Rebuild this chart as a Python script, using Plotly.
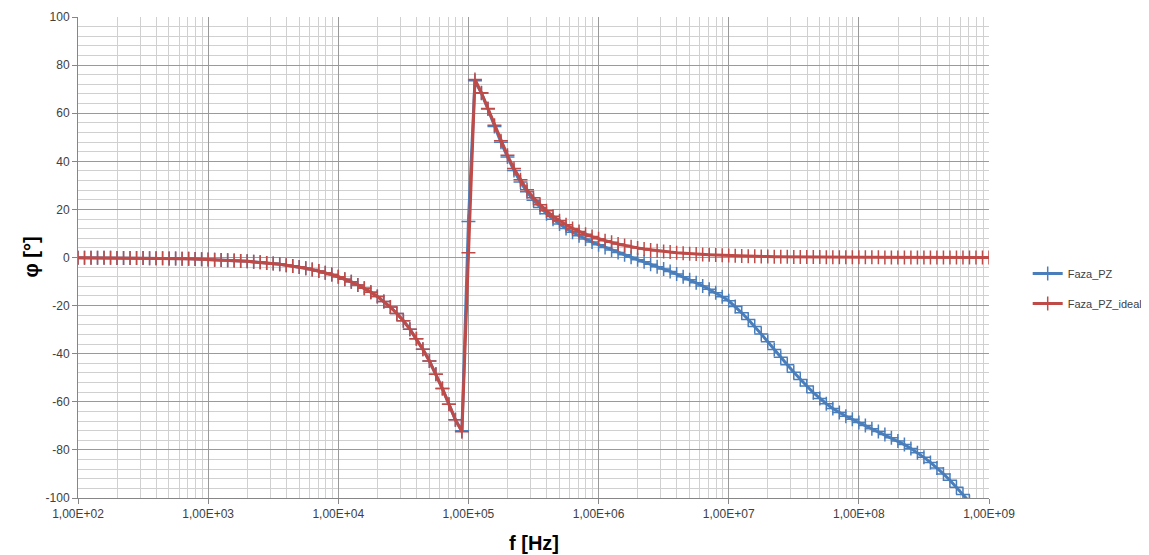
import plotly.graph_objects as go

# frequency points: 20 per decade from 1e2 to 1e9
exponents = [2 + k / 20 for k in range(141)]
freq = [10 ** e for e in exponents]

faza_pz_ideal = [
    -0.08, -0.09, -0.10, -0.11, -0.13, -0.14, -0.16, -0.18, -0.20, -0.22,
    -0.25, -0.28, -0.32, -0.36, -0.40, -0.45, -0.50, -0.56, -0.63, -0.71,
    -0.80, -0.89, -1.00, -1.12, -1.26, -1.42, -1.59, -1.78, -2.00, -2.24,
    -2.52, -2.83, -3.18, -3.56, -3.99, -4.48, -5.03, -5.65, -6.34, -7.12,
    -8.0, -9.0, -10.1, -11.4, -12.8, -14.4, -16.2, -18.3, -20.6, -23.3,
    -26.3, -29.8, -33.8, -38.2, -43.0, -48.5, -54.5, -61.0, -67.5, -72.5,
    2.0, 74.0, 68.5, 62.0, 55.0, 48.5, 42.5, 37.0, 32.3, 28.2,
    24.8, 21.9, 19.4, 17.2, 15.3, 13.6, 12.1, 10.8, 9.7, 8.7,
    7.8, 7.0, 6.3, 5.6, 5.0, 4.5, 4.0, 3.55, 3.17, 2.82,
    2.52, 2.24, 2.0, 1.78, 1.59, 1.42, 1.26, 1.12, 1.0, 0.89,
    0.80, 0.71, 0.63, 0.56, 0.50, 0.45, 0.40, 0.36, 0.32, 0.28,
    0.25, 0.22, 0.20, 0.18, 0.16, 0.14, 0.13, 0.11, 0.10, 0.09,
    0.08, 0.07, 0.063, 0.056, 0.05, 0.045, 0.04, 0.036, 0.032, 0.028,
    0.025, 0.022, 0.02, 0.018, 0.016, 0.014, 0.013, 0.011, 0.01, 0.009,
    0.008,
]

faza_pz = [
    -0.08, -0.09, -0.10, -0.11, -0.13, -0.14, -0.16, -0.18, -0.20, -0.22,
    -0.25, -0.28, -0.32, -0.36, -0.40, -0.45, -0.50, -0.56, -0.63, -0.71,
    -0.80, -0.89, -1.00, -1.12, -1.26, -1.42, -1.59, -1.78, -2.00, -2.24,
    -2.52, -2.83, -3.18, -3.56, -3.99, -4.48, -5.03, -5.65, -6.34, -7.12,
    -8.0, -9.0, -10.1, -11.4, -12.8, -14.4, -16.2, -18.3, -20.6, -23.3,
    -26.3, -29.8, -33.8, -38.2, -43.0, -48.5, -54.5, -61.0, -67.5, -72.0,
    15.0, 73.5, 68.3, 61.7, 54.5, 47.9, 41.8, 36.2, 31.4, 27.3,
    23.8, 20.8, 18.2, 15.9, 13.9, 12.1, 10.5, 9.0, 7.7, 6.4,
    5.3, 4.2, 3.1, 2.1, 1.1, 0.1, -0.9, -1.8, -2.8, -3.8,
    -4.8, -5.8, -6.9, -8.0, -9.2, -10.5, -11.8, -13.2, -14.7, -16.3,
    -18.0, -20.4, -23.0, -25.8, -28.7, -31.8, -35.0, -38.3, -41.5, -44.6,
    -47.7, -50.7, -53.4, -56.2, -58.6, -60.8, -62.8, -64.5, -66.0, -67.3,
    -68.6, -69.9, -71.2, -72.4, -73.6, -74.9, -76.3, -77.8, -79.4, -81.2,
    -83.1, -85.2, -87.5, -90.0, -92.6, -95.5, -98.5, -101.6, -104.8, -108.0,
    -111.3,
]

x_tickvals = [1e2, 1e3, 1e4, 1e5, 1e6, 1e7, 1e8, 1e9]
x_ticktext = ["1,00E+02", "1,00E+03", "1,00E+04", "1,00E+05",
              "1,00E+06", "1,00E+07", "1,00E+08", "1,00E+09"]
y_tickvals = [-100, -80, -60, -40, -20, 0, 20, 40, 60, 80, 100]
y_ticktext = ["-100", "-80", "-60", "-40", "-20", "0", "20", "40", "60", "80", "100"]

BLUE = "#4a7ebb"
RED = "#be4b48"

fig = go.Figure()
fig.add_trace(go.Scatter(
    x=freq, y=faza_pz, name="Faza_PZ", mode="lines+markers", legendgroup="a",
    line=dict(color=BLUE, width=3),
    marker=dict(symbol="cross-thin", size=10, line=dict(color=BLUE, width=1.5)),
))
fig.add_trace(go.Scatter(
    x=freq, y=faza_pz_ideal, name="Faza_PZ_ideal", mode="lines+markers", legendgroup="b",
    line=dict(color=RED, width=3),
    marker=dict(symbol="cross-thin", size=10, line=dict(color=RED, width=1.5)),
))

# page body has an 8px default margin, so the figure is sized to fit inside it
fig.update_layout(
    width=1133, height=547,
    margin=dict(l=70, r=152, t=9, b=57),
    paper_bgcolor="white", plot_bgcolor="white",
    font=dict(family="Liberation Sans, Arial, sans-serif", size=12, color="#404040"),
    legend=dict(xref="container", yref="container", x=0.9, y=0.487,
                xanchor="left", yanchor="middle",
                font=dict(size=11, color="#404040"),
                bgcolor="rgba(0,0,0,0)", itemwidth=30, tracegroupgap=11),
    showlegend=True,
    annotations=[
        dict(text="<b>f [Hz]</b>", xref="paper", yref="paper", x=0.5, y=0,
             yshift=-45, xanchor="center", yanchor="middle", showarrow=False,
             font=dict(size=20, color="#000000")),
        dict(text="<b>φ [°]</b>", xref="paper", yref="paper", x=0, y=0.5,
             xshift=-48, xanchor="center", yanchor="middle", showarrow=False,
             textangle=-90, font=dict(size=20, color="#000000")),
    ],
)

fig.update_xaxes(
    type="log", range=[2, 9], automargin=False,
    tickvals=x_tickvals, ticktext=x_ticktext,
    showgrid=True, gridcolor="#9a9a9a", gridwidth=1.2,
    minor=dict(showgrid=True, gridcolor="#d0d0d0", gridwidth=1.3,
               ticks="", dtick="D1"),
    showline=True, linecolor="#868686", linewidth=1,
    ticks="outside", ticklen=5, tickcolor="#868686",
    zeroline=False,
)
fig.update_yaxes(
    range=[-100, 100], tickvals=y_tickvals, ticktext=y_ticktext, automargin=False,
    showgrid=True, gridcolor="#9a9a9a", gridwidth=1.2,
    minor=dict(showgrid=True, gridcolor="#d0d0d0", gridwidth=1.3,
               dtick=4, ticks=""),
    showline=True, linecolor="#868686", linewidth=1,
    ticks="outside", ticklen=5, tickcolor="#868686",
    zeroline=False,
)

fig.write_html("out.html")
